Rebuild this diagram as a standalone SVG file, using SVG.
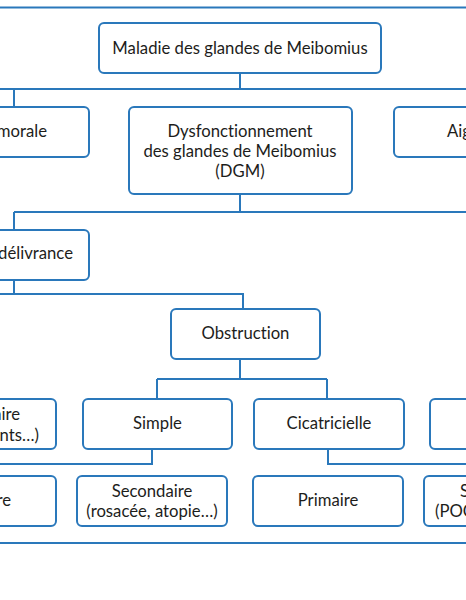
<svg xmlns="http://www.w3.org/2000/svg" width="466" height="600" viewBox="0 0 466 600">
<style>
.b{fill:#fff;stroke:#2a78bb;stroke-width:2}
.c{fill:none;stroke:#2a78bb;stroke-width:2}
text{font-family:Lato,"Open Sans",sans-serif;font-size:16.7px;fill:#1d1d1b;font-variant-ligatures:none}
.m{text-anchor:middle}
.e{text-anchor:end}
</style>
<rect width="466" height="600" fill="#fff"/>
<g id="connectors">
<path class="c" d="M0 7.5H466M0 543H466"/>
<path class="c" d="M240 73V89M0 89H466M14 89V107"/>
<path class="c" d="M240 194V212M14 212H466M14 212V230"/>
<path class="c" d="M14 280V294M0 294H243V309"/>
<path class="c" d="M240 359V379M157 379H327M157 379V399M327 379V399"/>
<path class="c" d="M152 449V464H0M328 449V464H466"/>
</g>
<g id="root"><rect class="b" x="99" y="23" width="282" height="50" rx="5"/><text class="m" x="240" y="54">Maladie des glandes de Meibomius</text></g>
<g id="n-left1"><rect class="b" x="-60" y="107" width="149" height="50" rx="5"/><text class="e" x="47" y="137">morale</text></g>
<g id="n-dgm"><rect class="b" x="129" y="107" width="223" height="87" rx="5"/><text class="m" x="240" y="137">Dysfonctionnement</text><text class="m" x="240" y="157">des glandes de Meibomius</text><text class="m" x="240" y="177">(DGM)</text></g>
<g id="n-right1"><rect class="b" x="394" y="107" width="150" height="50" rx="5"/><text x="447" y="137">Aig</text></g>
<g id="n-delivrance"><rect class="b" x="-60" y="230" width="149" height="50" rx="5"/><text class="e" x="73" y="259">délivrance</text></g>
<g id="n-obstruction"><rect class="b" x="171" y="309" width="149" height="50" rx="5"/><text class="m" x="245.5" y="339">Obstruction</text></g>
<g id="n-left3"><rect class="b" x="-93" y="399" width="149" height="50" rx="5"/><text class="e" x="20" y="420">aire</text><text class="e" x="39" y="441">ents…)</text></g>
<g id="n-simple"><rect class="b" x="83" y="399" width="149" height="50" rx="5"/><text class="m" x="157.5" y="429">Simple</text></g>
<g id="n-cicatricielle"><rect class="b" x="254" y="399" width="150" height="50" rx="5"/><text class="m" x="329" y="429">Cicatricielle</text></g>
<g id="n-right3"><rect class="b" x="430" y="399" width="150" height="50" rx="5"/></g>
<g id="n-left4"><rect class="b" x="-93" y="476" width="149" height="50" rx="5"/><text class="e" x="11" y="506">re</text></g>
<g id="n-secondaire"><rect class="b" x="77" y="476" width="150" height="50" rx="5"/><text class="m" x="152" y="497">Secondaire</text><text class="m" x="152" y="517">(rosacée, atopie…)</text></g>
<g id="n-primaire"><rect class="b" x="253" y="476" width="150" height="50" rx="5"/><text class="m" x="328" y="506">Primaire</text></g>
<g id="n-right4"><rect class="b" x="424" y="476" width="150" height="50" rx="5"/><text x="460" y="497">S</text><text x="435" y="517">(POC</text></g>
</svg>
